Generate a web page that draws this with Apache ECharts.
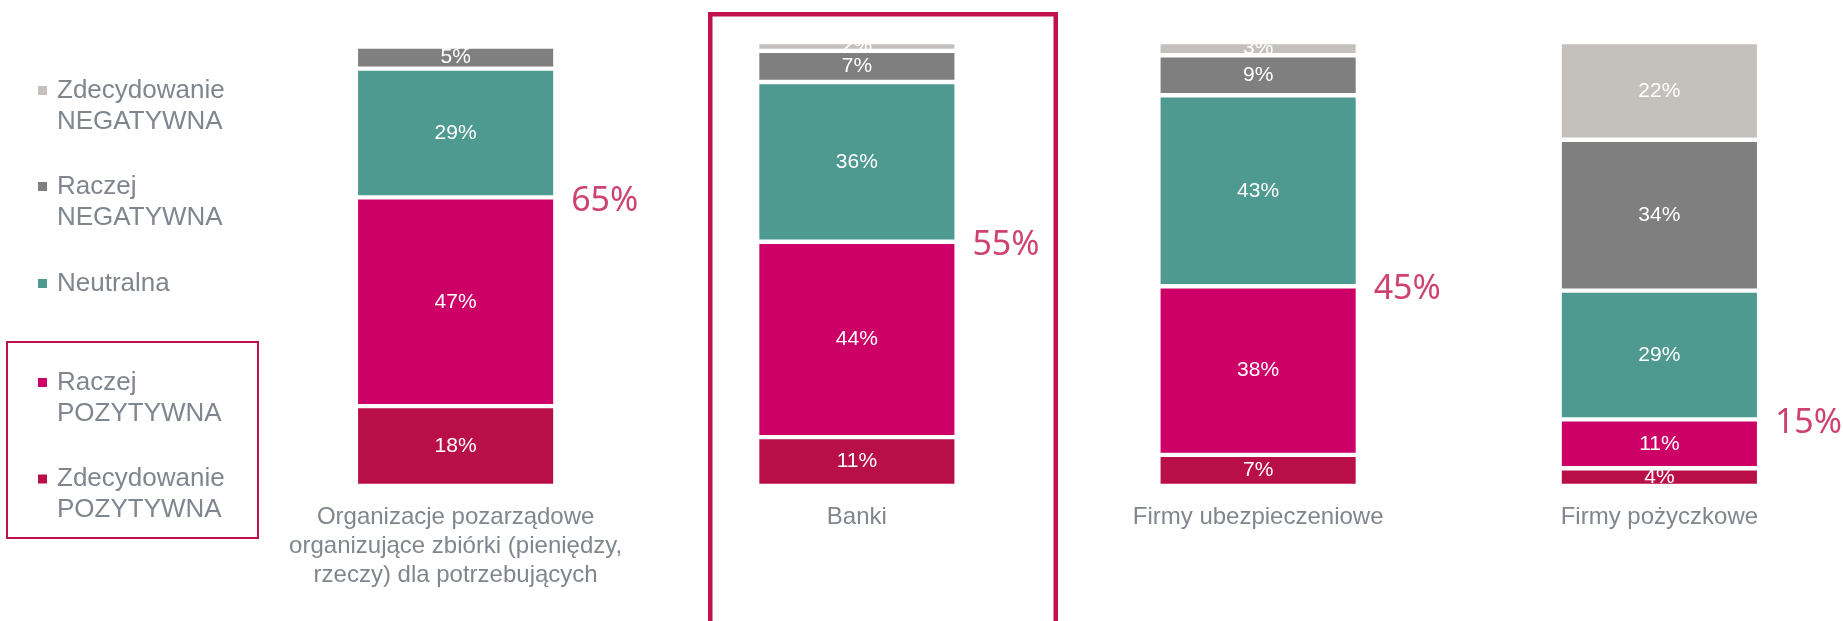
<!DOCTYPE html>
<html>
<head>
<meta charset="utf-8">
<title>Opinia o instytucjach</title>
<script src="https://cdn.jsdelivr.net/npm/echarts@6/dist/echarts.min.js"></script>
<style>
  html, body { margin: 0; padding: 0; background: #fff; }
  #chart { width: 1843px; height: 621px; }
</style>
</head>
<body>
<div id="chart"></div>
<script>
// kategorie (oś X)
const categories = [
  'Organizacje pozarządowe\norganizujące zbiórki (pieniędzy,\nrzeczy) dla potrzebujących',
  'Banki',
  'Firmy ubezpieczeniowe',
  'Firmy pożyczkowe'
]
// wartości w %, od dołu słupka
const zdecydowaniePozytywna = [18, 11, 7, 4]
const raczejPozytywna = [47, 44, 38, 11]
const neutralna = [29, 36, 43, 29]
const raczejNegatywna = [5, 7, 9, 34]
const zdecydowanieNegatywna = [1, 2, 3, 22]
// suma ocen pozytywnych
const sumaPozytywna = [65, 55, 45, 15]

const red = '#C0134D'
const grey = '#80868D'
const font = '"Liberation Sans", Arial, sans-serif'

const seriesDef = [
  { name: 'Zdecydowanie POZYTYWNA', data: zdecydowaniePozytywna, color: '#B90F48' },
  { name: 'Raczej POZYTYWNA', data: raczejPozytywna, color: '#CC0066' },
  { name: 'Neutralna', data: neutralna, color: '#4E9990' },
  { name: 'Raczej NEGATYWNA', data: raczejNegatywna, color: '#7F7F7F' },
  { name: 'Zdecydowanie NEGATYWNA', data: zdecydowanieNegatywna, color: '#C4C0BC' }
]

// legenda: każda pozycja osobno, od góry
const legendItems = [
  { name: 'Zdecydowanie NEGATYWNA', top: 44 },
  { name: 'Raczej NEGATYWNA', top: 140 },
  { name: 'Neutralna', top: 268 },
  { name: 'Raczej POZYTYWNA', top: 336 },
  { name: 'Zdecydowanie POZYTYWNA', top: 432.5 }
]

const chart = echarts.init(document.getElementById('chart'))

chart.setOption({
  animation: false,
  grid: {
    left: 255,
    top: 42,
    width: 1605,
    height: 444,
    outerBoundsMode: 'none',
    containLabel: false
  },
  legend: legendItems.map(item => ({
    data: [item.name],
    left: 38,
    top: item.top,
    padding: 0,
    orient: 'vertical',
    icon: 'rect',
    itemWidth: 9,
    itemHeight: 9,
    selectedMode: false,
    itemStyle: { borderWidth: 0 },
    // pusta linia na górze, żeby znacznik był na wysokości pierwszej linii
    formatter: name => name.indexOf(' ') > 0 ? '\n' + name.replace(' ', '\n') : name,
    textStyle: {
      color: grey,
      fontSize: 26,
      fontFamily: font,
      lineHeight: 31,
      padding: [0, 0, 0, 5]
    }
  })),
  xAxis: {
    type: 'category',
    data: categories,
    axisLine: { show: false },
    axisTick: { show: false },
    axisLabel: {
      color: grey,
      fontSize: 24,
      fontFamily: font,
      lineHeight: 29,
      margin: 16.5,
      interval: 0
    }
  },
  yAxis: {
    type: 'value',
    min: 0,
    max: 100,
    show: false
  },
  series: seriesDef.map(s => ({
    name: s.name,
    type: 'bar',
    stack: 'all',
    barWidth: 199.5,
    data: s.data,
    itemStyle: {
      color: s.color,
      borderColor: '#fff',
      borderWidth: 2.2
    },
    label: {
      show: true,
      position: 'inside',
      color: '#fff',
      fontSize: 21,
      fontFamily: font,
      formatter: p => p.value + '%'
    }
  })).concat([{
    // duże liczby z sumą ocen pozytywnych
    type: 'scatter',
    silent: true,
    symbolSize: 1,
    itemStyle: { color: 'rgba(0,0,0,0)' },
    data: sumaPozytywna.map((v, i) => [i, v]),
    label: {
      show: true,
      position: 'right',
      distance: 115,
      offset: [0, 3.5],
      color: red,
      fontSize: 34,
      fontFamily: '"Noto Sans", sans-serif',
      formatter: p => p.value[1] + '%'
    }
  }]),
  graphic: [
    {
      // ramka wokół "Banki"
      type: 'rect',
      shape: { x: 710.25, y: 14.25, width: 345.5, height: 700 },
      style: { fill: 'none', stroke: red, lineWidth: 4.5 },
      silent: true
    },
    {
      // ramka wokół pozytywnych pozycji legendy
      type: 'rect',
      shape: { x: 7, y: 342, width: 251, height: 196 },
      style: { fill: 'none', stroke: red, lineWidth: 2 },
      silent: true
    }
  ]
})
</script>
</body>
</html>
